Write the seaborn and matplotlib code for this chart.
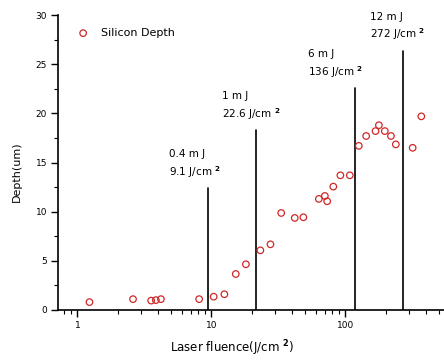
import numpy as np
import seaborn as sns
import matplotlib.pyplot as plt
import pandas as pd
from matplotlib.ticker import LogLocator, NullFormatter, FixedLocator

# measured depth vs laser fluence
fluence = [1.23, 2.6, 3.55, 3.85, 4.2, 8.1, 10.4, 12.5, 15.2, 18.1, 23.2, 27.6,
           33.2, 41.9, 48.6, 63.4, 70.3, 73.2, 81.3, 91.8, 108, 126, 143, 168,
           178, 197, 219, 238, 318, 369]
depth = [0.8, 1.1, 0.95, 1.0, 1.1, 1.1, 1.35, 1.6, 3.66, 4.65, 6.07, 6.68,
         9.87, 9.36, 9.43, 11.3, 11.6, 11.06, 12.55, 13.7, 13.7, 16.7, 17.7, 18.2,
         18.8, 18.2, 17.7, 16.85, 16.5, 19.7]

# pulse energy markers
line_x = [9.45, 21.7, 119, 271]
line_top = [12.4, 18.3, 22.6, 26.4]
energy_labels = ["0.4 m J", "1 m J", "6 m J", "12 m J"]
fluence_labels = ["9.1 J/cm $^{\\bf 2}$", "22.6 J/cm $^{\\bf 2}$",
                  "136 J/cm $^{\\bf 2}$", "272 J/cm $^{\\bf 2}$"]
label_dx = [-39, -34, -47, -33]

sns.set_style("ticks", {'axes.edgecolor': 'black', 'text.color': 'black',
                        'xtick.color': 'black', 'ytick.color': 'black',
                        'axes.labelcolor': 'black'})
plt.rcParams['font.family'] = ['DejaVu Sans']
plt.rcParams['mathtext.fontset'] = 'dejavusans'

df = pd.DataFrame(dict(fluence=fluence, depth=depth))
red = '#d02828'

fig = plt.figure(figsize=(4.44, 3.6), dpi=100)
ax = fig.add_axes([0.131, 0.139, 0.869, 0.819])

sns.scatterplot(x="fluence", y="depth", data=df, ax=ax, marker='o', s=22,
                facecolor='none', edgecolor=red, linewidth=0.9,
                label="Silicon Depth", zorder=3)

for x, top, e, f, dx in zip(line_x, line_top, energy_labels, fluence_labels, label_dx):
    ax.plot([x, x], [0, top], color='black', lw=1.2, zorder=2)
    ax.annotate(e, xy=(x, top), xytext=(dx, 34), textcoords='offset pixels',
                ha='left', va='center', fontsize=7.5)
    ax.annotate(f, xy=(x, top), xytext=(dx, 16), textcoords='offset pixels',
                ha='left', va='center', fontsize=7.5)

ax.set_xscale('log')
ax.set_xlim(0.718, 545)
ax.set_ylim(0, 30)
ax.set_yticks([0, 5, 10, 15, 20, 25, 30])
ax.yaxis.set_minor_locator(FixedLocator(np.arange(2.5, 30, 5)))
ax.xaxis.set_minor_locator(LogLocator(base=10, subs=np.arange(2, 10)))
ax.xaxis.set_minor_formatter(NullFormatter())
ax.set_xticks([1, 10, 100])
ax.set_xticklabels(["1", "10", "100"])

ax.tick_params(which='major', direction='out', length=5, width=1, labelsize=6.5, pad=3)
ax.tick_params(which='minor', direction='out', length=3, width=0.8)
sns.despine(ax=ax)
ax.spines['left'].set_linewidth(1.2)
ax.spines['bottom'].set_linewidth(1.2)

ax.set_xlabel("Laser fluence(J/cm $^{\\bf 2}$)", fontsize=8.5)
ax.xaxis.set_label_coords(0.45, -0.095)
ax.set_ylabel("Depth(um)", fontsize=8)
ax.yaxis.set_label_coords(-0.095, 0.47)

ax.legend(loc='upper left', bbox_to_anchor=(0.01, 0.99), frameon=False,
          fontsize=8, handletextpad=0.6, markerscale=1.0)

fig.savefig("out.png", dpi=100)
